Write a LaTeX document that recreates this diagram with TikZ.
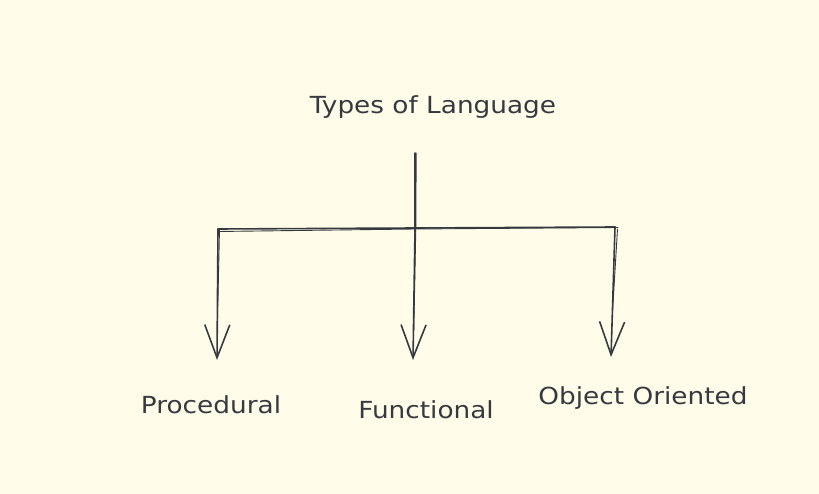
\documentclass[tikz,border=0pt]{standalone}
\usepackage{fontspec}
\setmainfont{DejaVu Sans}[FakeStretch=1.12]
\usetikzlibrary{arrows.meta}
\definecolor{bgc}{HTML}{FFFCE9}
\definecolor{ink}{HTML}{363A3F}
\begin{document}
\begin{tikzpicture}[x=1bp,y=-1bp,
  lbl/.style={text=ink,inner sep=0pt,anchor=base,font=\fontsize{23.5bp}{27bp}\selectfont},
  wire/.style={draw=ink,line width=1.6bp,line cap=round,line join=round},
  ghost/.style={draw=ink,line width=0.9bp,line cap=round},
  arr/.style={wire,-{Straight Barb[length=33bp,width=25bp,line width=1.6bp]}}]
\fill[bgc] (0,0) rectangle (819,494);
\useasboundingbox (0,0) rectangle (819,494);
% texts
\node[lbl] (title) at (433,114) {Types of Language};
\node[lbl] (proc)  at (211,413) {Procedural};
\node[lbl] (func)  at (426,418) {Functional};
\node[lbl] (obj)   at (643,404) {Object Oriented};
% junction points
\coordinate (top) at (415,153);
\coordinate (mid) at (415,228);
\coordinate (jl)  at (218,229);
\coordinate (jr)  at (615,227);
\coordinate (al)  at (217,360);
\coordinate (am)  at (413,360);
\coordinate (ar)  at (611,357);
% trunk and bar
\draw[wire] (top) -- (mid);
\draw[ghost] ([xshift=1.2bp]top) -- ([xshift=0.8bp]mid);
\draw[wire] (jl) -- (mid) -- (jr);
\draw[ghost] ([yshift=-2.5bp]jl) -- ([yshift=-1bp]mid) -- ([xshift=3bp,yshift=-0.5bp]jr);
% branches
\draw[arr] (jl) -- (al);
\draw[ghost] ([xshift=1.5bp]jl) -- ([xshift=0.5bp,yshift=40bp]al);
\draw[arr] (mid) -- (am);
\draw[ghost] ([xshift=0.8bp]mid) -- ([xshift=0.8bp,yshift=30bp]am);
\draw[arr] (jr) -- (ar);
\draw[ghost] ([xshift=2.5bp,yshift=-2bp]jr) -- ([xshift=1.5bp,yshift=45bp]ar);
\end{tikzpicture}
\end{document}
